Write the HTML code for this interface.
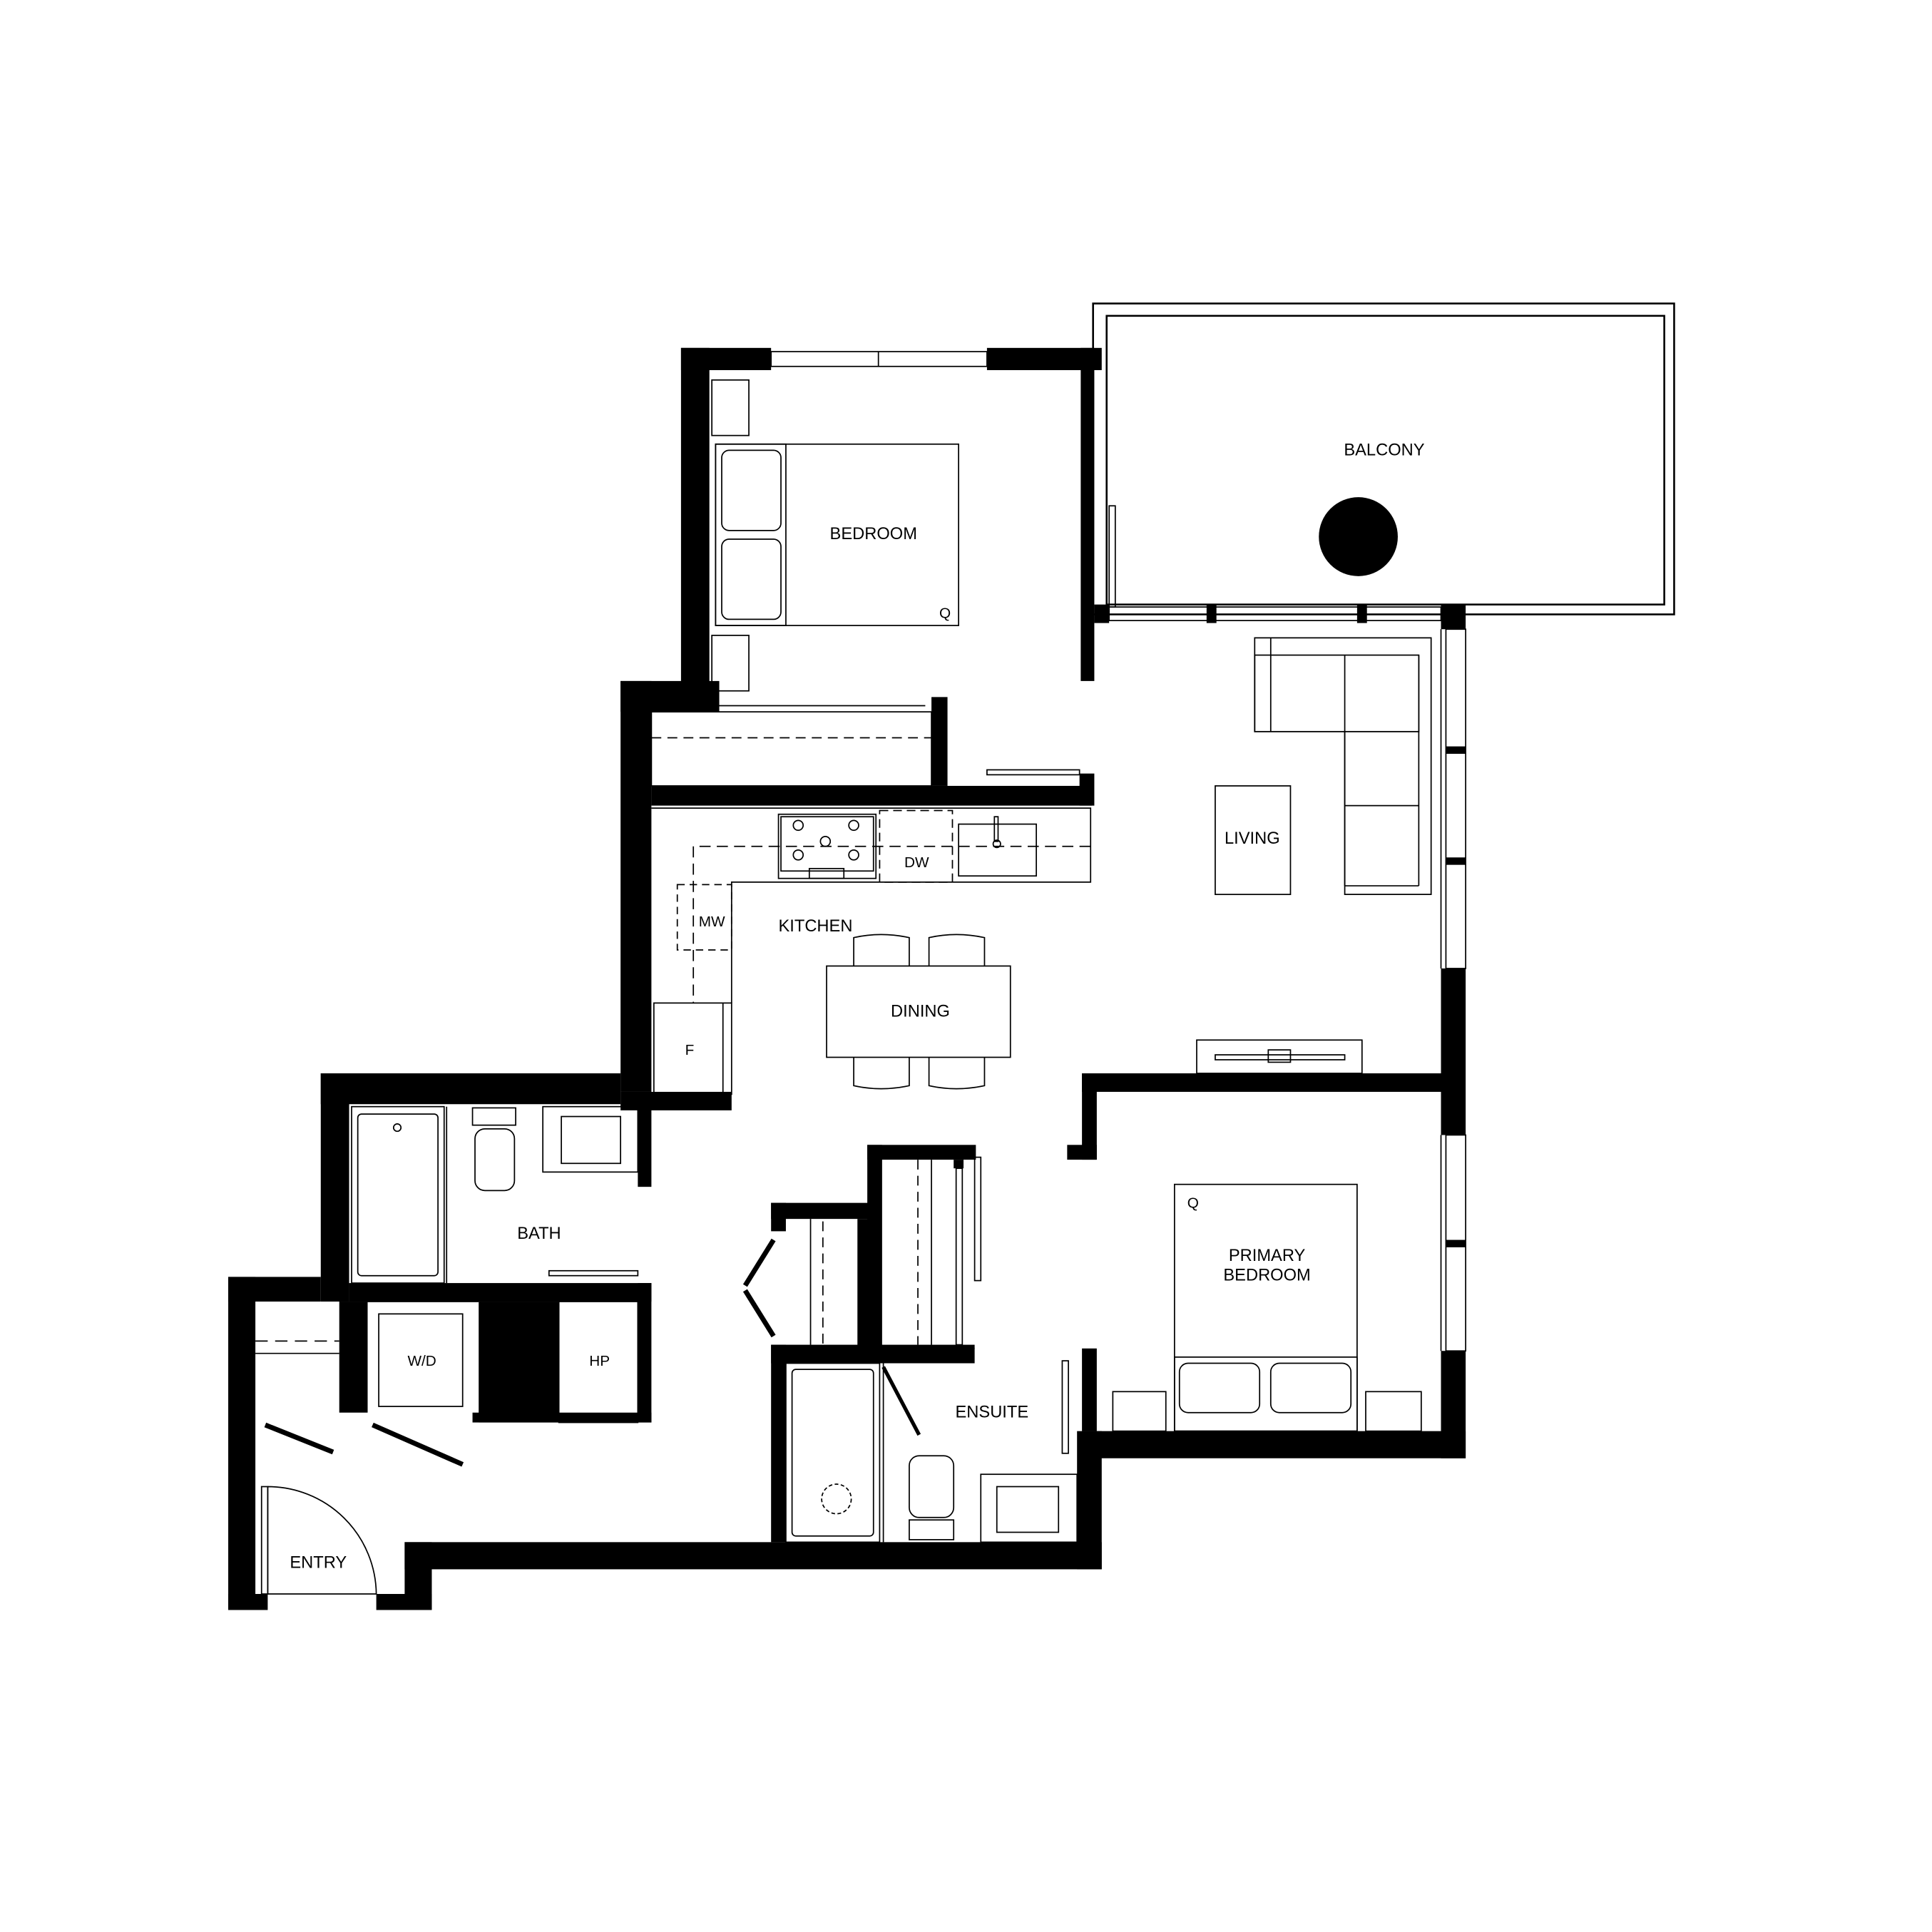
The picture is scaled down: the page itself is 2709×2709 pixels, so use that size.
<!DOCTYPE html>
<html><head><meta charset="utf-8"><style>
html,body{margin:0;padding:0;background:#fff}
svg{display:block}
text{font-family:"Liberation Sans",sans-serif;font-size:13.7px;fill:#000;text-anchor:middle}
</style></head><body>
<svg width="2709" height="2709" viewBox="0 0 1566 1566" xmlns="http://www.w3.org/2000/svg">
<rect width="1566" height="1566" fill="#fff"/>
<!-- balcony -->
<rect x="886" y="246" width="471" height="252" fill="none" stroke="#000" stroke-width="1.5"/>
<rect x="897" y="256" width="452" height="234" fill="none" stroke="#000" stroke-width="1.5"/>
<circle cx="1101" cy="435" r="32" fill="#000"/>
<rect x="899" y="410" width="5" height="82" fill="none" stroke="#000" stroke-width="1"/>
<g fill="#000">
<rect x="552" y="282" width="23" height="283"/>
<rect x="552" y="282" width="73" height="18"/>
<rect x="800" y="282" width="93" height="18"/>
<rect x="876" y="282" width="11" height="270"/>
<rect x="503" y="552" width="80" height="25"/>
<rect x="503" y="552" width="25" height="333"/>
<rect x="755" y="565" width="13" height="72"/>
<rect x="528" y="637" width="357" height="16"/>
<rect x="875" y="627" width="12" height="26"/>
<rect x="503" y="885" width="90" height="15"/>
<rect x="260" y="870" width="243" height="25"/>
<rect x="260" y="870" width="23" height="185"/>
<rect x="517" y="895" width="11" height="67"/>
<rect x="283" y="1040" width="245" height="15"/>
<rect x="185" y="1035" width="22" height="270"/>
<rect x="185" y="1035" width="75" height="20"/>
<rect x="275" y="1055" width="23" height="90"/>
<rect x="388" y="1055" width="65" height="98"/>
<rect x="517" y="1040" width="11" height="113"/>
<rect x="383" y="1145" width="145" height="8"/>
<rect x="328" y="1250" width="565" height="22"/>
<rect x="328" y="1250" width="22" height="55"/>
<rect x="305" y="1292" width="45" height="13"/>
<rect x="185" y="1292" width="32" height="13"/>
<rect x="625" y="1090" width="12" height="160"/>
<rect x="625" y="1090" width="165" height="15"/>
<rect x="873" y="1160" width="20" height="112"/>
<rect x="877" y="1093" width="12" height="67"/>
<rect x="703" y="928" width="88" height="12"/>
<rect x="703" y="928" width="12" height="165"/>
<rect x="625" y="975" width="88" height="13"/>
<rect x="625" y="975" width="12" height="23"/>
<rect x="695" y="988" width="18" height="105"/>
<rect x="773" y="940" width="8" height="7"/>
<rect x="877" y="1160" width="311" height="22"/>
<rect x="1168" y="490" width="20" height="20"/>
<rect x="1168" y="785" width="20" height="135"/>
<rect x="1168" y="1095" width="20" height="87"/>
<rect x="877" y="870" width="291" height="15"/>
<rect x="877" y="870" width="12" height="70"/>
<rect x="865" y="928" width="24" height="12"/>
<rect x="887" y="490" width="12" height="15"/>
<rect x="978" y="490" width="8" height="15"/>
<rect x="1100" y="490" width="8" height="15"/>
<rect x="1172" y="605" width="16" height="6"/>
<rect x="1172" y="695" width="16" height="6"/>
<rect x="1172" y="1005" width="16" height="6"/>
</g>
<g fill="none" stroke="#000" stroke-width="1">
<rect x="625" y="285" width="175" height="12"/><line x1="712" y1="285" x2="712" y2="297"/>
<rect x="899" y="492" width="269" height="11"/>
<rect x="1172" y="510" width="16" height="275"/>
<rect x="1172" y="920" width="16" height="175"/>
<line x1="1168" y1="510" x2="1168" y2="785"/>
<line x1="1168" y1="920" x2="1168" y2="1095"/>
<rect x="580" y="360" width="197" height="147"/>
<rect x="580" y="360" width="57" height="147"/>
<rect x="585" y="365" width="48" height="65" rx="6"/>
<rect x="585" y="437" width="48" height="65" rx="6"/>
<rect x="577" y="308" width="30" height="45"/><rect x="577" y="515" width="30" height="45"/>
<rect x="528" y="577" width="227" height="60"/><line x1="528" y1="598" x2="755" y2="598" stroke-dasharray="8 5"/>
<line x1="583" y1="572" x2="750" y2="572"/>
<rect x="800" y="624" width="75" height="4"/>
<polyline points="528,655 884,655 884,715 593,715 593,813"/>
<rect x="631" y="660" width="79" height="52"/>
<rect x="633" y="662" width="75" height="44"/>
<circle cx="647" cy="669" r="4"/><circle cx="692" cy="669" r="4"/><circle cx="647" cy="693" r="4"/><circle cx="692" cy="693" r="4"/><circle cx="669" cy="682" r="4"/>
<rect x="656" y="704" width="28" height="8"/>
<rect x="713" y="657" width="59" height="58" stroke-dasharray="7 4"/>
<rect x="777" y="668" width="63" height="42"/>
<rect x="806" y="662" width="3" height="20"/><circle cx="808" cy="684" r="3"/>
<polyline points="884,686 562,686 562,813" stroke-dasharray="9 5"/>
<rect x="549" y="717" width="44" height="53" stroke-dasharray="6 4"/>
<rect x="530" y="813" width="63" height="74"/><line x1="586" y1="813" x2="586" y2="887"/>
<rect x="670" y="783" width="149" height="74"/>
<path d="M692,783 v-23 q22,-5 45,0 v23 M753,783 v-23 q22,-5 45,0 v23 M692,857 v23 q22,5 45,0 v-23 M753,857 v23 q22,5 45,0 v-23"/>
<rect x="985" y="637" width="61" height="88"/>
<path d="M1017,517 H1160 V725 H1090 V593 H1017 Z"/>
<rect x="1017" y="531" width="133" height="62"/>
<line x1="1090" y1="531" x2="1090" y2="718"/><line x1="1150" y1="531" x2="1150" y2="718"/>
<line x1="1090" y1="653" x2="1150" y2="653"/><line x1="1090" y1="593" x2="1150" y2="593"/>
<line x1="1090" y1="718" x2="1150" y2="718"/>
<line x1="1030" y1="517" x2="1030" y2="593"/>
<rect x="970" y="843" width="134" height="27"/><rect x="985" y="855" width="105" height="4"/><rect x="1028" y="851" width="18" height="10"/>
<rect x="285" y="897" width="75" height="143"/><rect x="290" y="903" width="65" height="131" rx="3"/>
<circle cx="322" cy="914" r="3"/>
<rect x="383" y="898" width="35" height="14"/><rect x="385" y="915" width="32" height="50" rx="8"/>
<rect x="440" y="897" width="77" height="53"/><rect x="455" y="905" width="48" height="38"/>
<line x1="362" y1="897" x2="362" y2="1040"/>
<rect x="445" y="1030" width="72" height="4"/>
<rect x="307" y="1065" width="68" height="75"/><line x1="298" y1="1055" x2="388" y2="1055"/>
<rect x="453" y="1055" width="64" height="98"/>
<line x1="207" y1="1087" x2="275" y2="1087" stroke-dasharray="10 6"/><line x1="207" y1="1097" x2="275" y2="1097"/>
<line x1="215" y1="1155" x2="270" y2="1177" stroke-width="4"/>
<line x1="302" y1="1155" x2="375" y2="1187" stroke-width="4"/>
<path d="M217,1205 V1292 H305 A88,88 0 0 0 217,1205" />
<rect x="212" y="1205" width="5" height="87"/>
<line x1="657" y1="988" x2="657" y2="1090"/><line x1="667" y1="990" x2="667" y2="1090" stroke-dasharray="8 5"/>
<line x1="744" y1="940" x2="744" y2="1090" stroke-dasharray="8 5"/><line x1="755" y1="940" x2="755" y2="1090"/>
<rect x="775" y="947" width="5" height="143"/><rect x="790" y="938" width="5" height="100"/>
<line x1="604" y1="1042" x2="627" y2="1005" stroke-width="4"/>
<line x1="604" y1="1046" x2="627" y2="1083" stroke-width="4"/>
<line x1="637" y1="1093" x2="790" y2="1093"/>
<rect x="637" y="1105" width="76" height="145"/><rect x="642" y="1110" width="66" height="135" rx="3"/>
<circle cx="678" cy="1215" r="12" stroke-dasharray="3 2"/>
<line x1="716" y1="1105" x2="716" y2="1250"/>
<line x1="716" y1="1108" x2="745" y2="1163" stroke-width="3"/>
<rect x="737" y="1180" width="36" height="50" rx="8"/><rect x="737" y="1232" width="36" height="16"/>
<rect x="795" y="1195" width="78" height="55"/><rect x="808" y="1205" width="50" height="37"/>
<rect x="861" y="1103" width="5" height="75"/>
<rect x="952" y="960" width="148" height="200"/>
<rect x="952" y="1100" width="148" height="60"/>
<rect x="956" y="1105" width="65" height="40" rx="7"/><rect x="1030" y="1105" width="65" height="40" rx="7"/>
<rect x="902" y="1128" width="43" height="32"/><rect x="1107" y="1128" width="45" height="32"/>
</g>
<g>
<text x="1122" y="369">BALCONY</text>
<text x="708" y="437">BEDROOM</text>
<text x="766" y="501" style="font-size:12px">Q</text>
<text x="743" y="703" style="font-size:12px">DW</text>
<text x="577" y="751" style="font-size:12px">MW</text>
<text x="661" y="755">KITCHEN</text>
<text x="1015" y="684">LIVING</text>
<text x="746" y="824">DINING</text>
<text x="559" y="855" style="font-size:12px">F</text>
<text x="437" y="1004">BATH</text>
<text x="342" y="1107" style="font-size:12px">W/D</text>
<text x="486" y="1107" style="font-size:12px">HP</text>
<text x="804" y="1149">ENSUITE</text>
<text x="967" y="979" style="font-size:12px">Q</text>
<text x="1027" y="1022">PRIMARY</text>
<text x="1027" y="1038">BEDROOM</text>
<text x="258" y="1271">ENTRY</text>
</g>
</svg>
</body></html>
